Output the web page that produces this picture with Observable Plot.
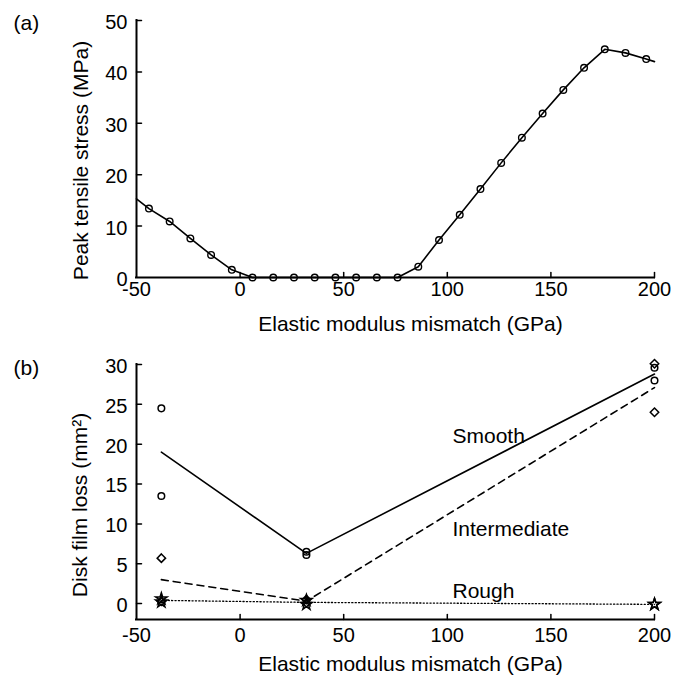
<!DOCTYPE html>
<html><head><meta charset="utf-8">
<script src="https://cdn.jsdelivr.net/npm/d3@7"></script>
<script src="https://cdn.jsdelivr.net/npm/@observablehq/plot@0.6"></script>
<style>
body{margin:0;background:#fff;}
#chart svg{display:block;}
</style></head><body><div id="chart"></div>
<script>
// ---------- Panel (a) data ----------
const mismatchA = [-44,-34,-24,-14,-4,6,16,26,36,46,56,66,76,86,96,106,116,126,136,146,156,166,176,186,196];
const stressA   = [13.4,10.9,7.6,4.4,1.5,0,0,0,0,0,0,0,0,2.1,7.3,12.2,17.2,22.3,27.2,31.9,36.5,40.8,44.4,43.7,42.5];
const curveEndX = [-50, 200];
const curveEndY = [15.3, 42.0];
const xTicks  = [-50, 0, 50, 100, 150, 200];
const yTicksA = [0, 10, 20, 30, 40, 50];
const yTicksB = [0, 5, 10, 15, 20, 25, 30];

// ---------- Panel (b) data ----------
const mismatchB = [-38, 32, 200];
const smoothPtsA = [24.5, 6.1, 29.6];
const smoothPtsB = [13.5, 6.5, 28.0];
const smoothLine = [19.0, 6.3, 28.8];
const interPtsA  = [5.7, 0.5, 30.1];
const interPtsB  = [0.3, 0.1, 24.0];
const interLine  = [3.0, 0.3, 27.1];
const roughPtsA  = [0.6, 0.4, -0.1];
const roughPtsB  = [0.2, -0.1, -0.1];
const roughLine  = [0.4, 0.15, -0.1];
const seriesNames = ["Smooth", "Intermediate", "Rough"];
const labelX = [102.5, 102.5, 102.5];
const labelY = [20.2, 8.5, 0.75];

const xTitle = "Elastic modulus mismatch (GPa)";
const yTitleA = "Peak tensile stress (MPa)";
const yTitleB = "Disk film loss (mm²)";

// ---------- helpers ----------
const FONT = "'Liberation Sans', Arial, Helvetica, sans-serif";
const fmt = d => String(d);
const tickShape = {draw(ctx, l) { ctx.moveTo(0, 0); ctx.lineTo(0, -l); }};
const curveA = [
  {x: curveEndX[0], y: curveEndY[0]},
  ...mismatchA.map((x, i) => ({x, y: stressA[i]})),
  {x: curveEndX[1], y: curveEndY[1]}
];
const ptsA = mismatchA.map((x, i) => ({x, y: stressA[i]}));
const pts = (a, b) => mismatchB.flatMap((x, i) => [{x, y: a[i]}, {x, y: b[i]}]);
const line = (v) => mismatchB.map((x, i) => ({x, y: v[i]}));
const labels = seriesNames.map((t, i) => ({t, x: labelX[i], y: labelY[i]}));

const common = {
  width: 674,
  marginLeft: 136, marginRight: 20,
  style: {fontFamily: FONT, fontSize: "20px", background: "white", color: "black"}
};

const chartA = Plot.plot({
  ...common,
  height: 340, marginTop: 20, marginBottom: 63,
  x: {domain: [-50, 200]},
  y: {domain: [0, 50]},
  marks: [
    Plot.axisX(xTicks, {tickSize: 0, tickPadding: 4, label: null, fontSize: 20, tickFormat: fmt}),
    Plot.axisY(yTicksA, {tickSize: 0, tickPadding: 9, label: null, dy: 2, fontSize: 20, tickFormat: fmt}),
    Plot.vector(xTicks.slice(1), {x: d => d, y: 0, length: 5, rotate: 0, anchor: "start", shape: tickShape, stroke: "black", strokeWidth: 1.5}),
    Plot.vector(yTicksA.slice(1), {x: -50, y: d => d, length: 5, rotate: 90, anchor: "start", shape: tickShape, stroke: "black", strokeWidth: 1.5}),
    Plot.line(curveA, {x: "x", y: "y", stroke: "black", strokeWidth: 1.6}),
    Plot.dot(ptsA, {x: "x", y: "y", r: 3.3, stroke: "black", fill: "none", strokeWidth: 1.4}),
    Plot.ruleY([0], {stroke: "black", strokeWidth: 2, strokeLinecap: "square"}),
    Plot.ruleX([-50], {stroke: "black", strokeWidth: 2, strokeLinecap: "square"}),
    Plot.text(["(a)"], {text: d => d, frameAnchor: "top-left", dx: -123, dy: 9, textAnchor: "start", lineAnchor: "bottom", fontSize: 21}),
    Plot.text([xTitle], {text: d => d, frameAnchor: "bottom", textAnchor: "middle", dx: 15, dy: 53, lineAnchor: "bottom", fontSize: 21}),
    Plot.text([yTitleA], {text: d => d, frameAnchor: "left", textAnchor: "middle", rotate: -90, dx: -49, dy: 11.5, lineAnchor: "bottom", fontSize: 21})
  ]
});

const chartB = Plot.plot({
  ...common,
  height: 337, marginTop: 24, marginBottom: 58,
  x: {domain: [-50, 200]},
  y: {domain: [-2, 30]},
  marks: [
    Plot.axisX(xTicks, {tickSize: 0, tickPadding: 8, label: null, fontSize: 20, tickFormat: fmt}),
    Plot.axisY(yTicksB, {tickSize: 0, tickPadding: 9, label: null, dy: 2, fontSize: 20, tickFormat: fmt}),
    Plot.vector(xTicks.slice(1), {x: d => d, y: -2, length: 5, rotate: 0, anchor: "start", shape: tickShape, stroke: "black", strokeWidth: 1.5}),
    Plot.vector(yTicksB, {x: -50, y: d => d, length: 5, rotate: 90, anchor: "start", shape: tickShape, stroke: "black", strokeWidth: 1.5}),
    Plot.line(line(smoothLine), {x: "x", y: "y", stroke: "black", strokeWidth: 1.6}),
    Plot.line(line(interLine), {x: "x", y: "y", stroke: "black", strokeWidth: 1.6, strokeDasharray: "7,5"}),
    Plot.line(line(roughLine), {x: "x", y: "y", stroke: "black", strokeWidth: 1.3, strokeDasharray: "1.2,2.2"}),
    Plot.dot(pts(smoothPtsA, smoothPtsB), {x: "x", y: "y", symbol: "circle", r: 3.3, stroke: "black", fill: "none", strokeWidth: 1.5}),
    Plot.dot(pts(interPtsA, interPtsB), {x: "x", y: "y", symbol: "diamond2", r: 3.8, stroke: "black", fill: "none", strokeWidth: 1.5}),
    Plot.dot(pts(roughPtsA, roughPtsB), {x: "x", y: "y", symbol: "star", r: 3.6, stroke: "black", fill: "none", strokeWidth: 1.5}),
    Plot.text(labels, {x: "x", y: "y", text: "t", textAnchor: "start", lineAnchor: "bottom", fontSize: 21}),
    Plot.ruleY([-2], {stroke: "black", strokeWidth: 2, strokeLinecap: "square"}),
    Plot.ruleX([-50], {stroke: "black", strokeWidth: 2, strokeLinecap: "square"}),
    Plot.text(["(b)"], {text: d => d, frameAnchor: "top-left", dx: -123, dy: 10, textAnchor: "start", lineAnchor: "bottom", fontSize: 21}),
    Plot.text([xTitle], {text: d => d, frameAnchor: "bottom", textAnchor: "middle", dx: 15, dy: 51, lineAnchor: "bottom", fontSize: 21}),
    Plot.text([yTitleB], {text: d => d, frameAnchor: "left", textAnchor: "middle", rotate: -90, dx: -50, dy: 13, lineAnchor: "bottom", fontSize: 21})
  ]
});

const root = document.getElementById("chart");
root.appendChild(chartA);
root.appendChild(chartB);
</script></body></html>
